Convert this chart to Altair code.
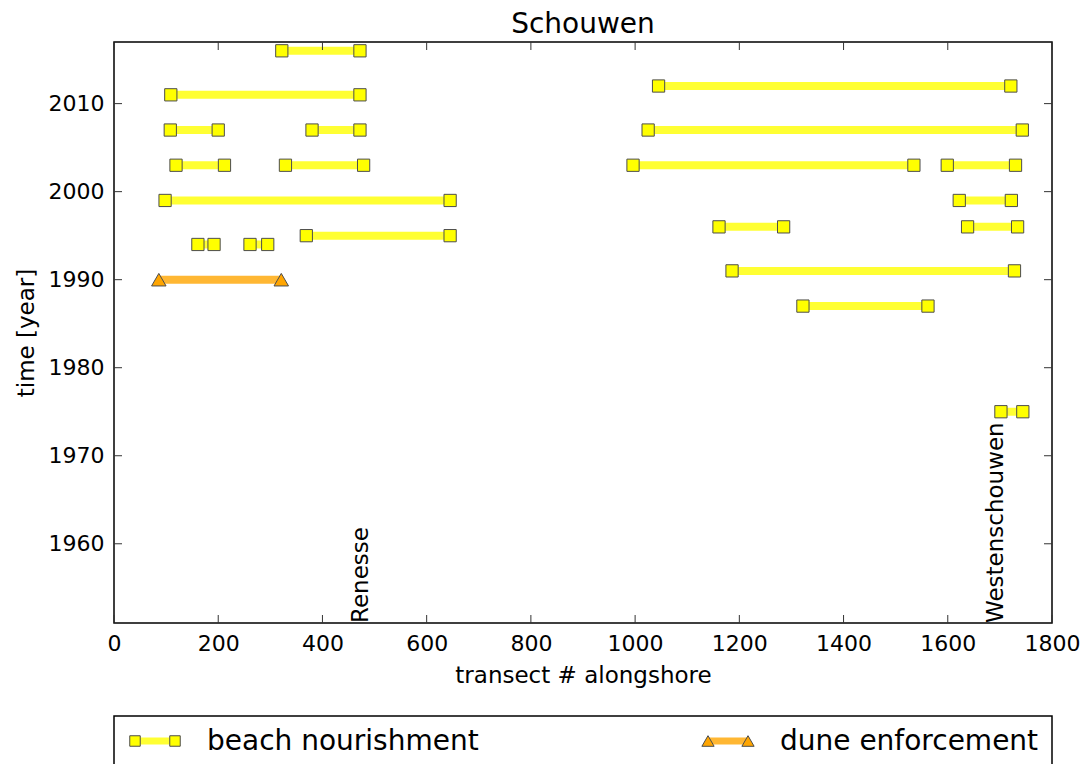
import altair as alt
import pandas as pd

FONT = "DejaVu Sans"

# ---------------- data ----------------
TITLE = "Schouwen"
SERIES = ["beach nourishment", "dune enforcement"]

beach_year = [2016, 2012, 2011, 2007, 2007, 2007, 2003, 2003, 2003, 2003,
              1999, 1999, 1996, 1996, 1995, 1994, 1994, 1991, 1987, 1975]
beach_start = [322, 1045, 109, 108, 380, 1025, 119, 329, 996, 1599,
               98, 1622, 1161, 1638, 369, 161, 261, 1186, 1322, 1702]
beach_end = [472, 1721, 472, 200, 472, 1743, 212, 479, 1535, 1730,
             645, 1722, 1285, 1734, 645, 192, 295, 1728, 1562, 1744]

dune_year = [1990]
dune_start = [86]
dune_end = [321]

place_names = ["Renesse", "Westenschouwen"]
place_transect = [487, 1706]

x_ticks = [0, 200, 400, 600, 800, 1000, 1200, 1400, 1600, 1800]
y_ticks = [1960, 1970, 1980, 1990, 2000, 2010]

# ---------------- tables ----------------
segs = pd.DataFrame({
    "type": [SERIES[0]] * len(beach_year) + [SERIES[1]] * len(dune_year),
    "year": beach_year + dune_year,
    "start": beach_start + dune_start,
    "end": beach_end + dune_end,
})
pts = segs.melt(id_vars=["type", "year"], value_vars=["start", "end"],
                var_name="side", value_name="transect")
places = pd.DataFrame({"name": place_names, "transect": place_transect})
xt = pd.DataFrame({"v": x_ticks})
yt = pd.DataFrame({"v": y_ticks})

W, H = 938, 581

LINE_COLORS = ["#ffff33", "#ffb733"]
FILL_COLORS = ["#ffff00", "#ffa500"]
SHAPES = ["square", "triangle-up"]
EDGE = "#4d4d4d"

xscale = alt.Scale(domain=[0, 1800], nice=False, zero=False)
yscale = alt.Scale(domain=[1951, 2017], nice=False, zero=False)

xaxis = alt.Axis(values=x_ticks, format="d", ticks=False, tickSize=0, domain=False, grid=False,
                 labelFlush=False, labelOverlap=False,
                 labelFontSize=22, labelFont=FONT, labelColor="black", labelPadding=10,
                 title="transect # alongshore", titleFontSize=23, titleFont=FONT,
                 titleFontWeight="normal", titleColor="black",
                 titleY=59, titleBaseline="alphabetic")
yaxis = alt.Axis(values=y_ticks, format="d", ticks=False, tickSize=0, domain=False, grid=False,
                 labelFlush=False,
                 labelFontSize=22, labelFont=FONT, labelColor="black", labelPadding=10,
                 title="time [year]", titleFontSize=23, titleFont=FONT,
                 titleFontWeight="normal", titleColor="black",
                 titleX=-81, titleY=H / 2, titleAngle=270, titleAlign="center",
                 titleBaseline="alphabetic")

base = alt.Chart(segs)

lines = base.mark_rule(strokeWidth=8, strokeCap="butt").encode(
    x=alt.X("start:Q", scale=xscale, axis=xaxis),
    x2="end:Q",
    y=alt.Y("year:Q", scale=yscale, axis=yaxis),
    color=alt.Color("type:N", scale=alt.Scale(domain=SERIES, range=LINE_COLORS), legend=None),
)

points = alt.Chart(pts).mark_point(filled=True, stroke=EDGE, strokeWidth=1,
                                   opacity=1).encode(
    x=alt.X("transect:Q", scale=xscale),
    y=alt.Y("year:Q", scale=yscale),
    fill=alt.Fill("type:N", scale=alt.Scale(domain=SERIES, range=FILL_COLORS), legend=None),
    shape=alt.Shape("type:N", scale=alt.Scale(domain=SERIES, range=SHAPES), legend=None),
    size=alt.Size("type:N", scale=alt.Scale(domain=SERIES, range=[150, 210]), legend=None),
)

labels = alt.Chart(places).mark_text(angle=270, align="left", baseline="alphabetic",
                                     fontSize=23, font=FONT, color="black").encode(
    x=alt.X("transect:Q", scale=xscale),
    y=alt.value(H),
    text="name:N",
)

title = alt.Chart(alt.Data(values=[{"t": TITLE}])).mark_text(
    align="center", baseline="alphabetic", fontSize=28, font=FONT, color="black").encode(
    x=alt.value(W / 2), y=alt.value(-9), text="t:N")

TICK = 8
tick_color = "#333333"
xt_bottom = alt.Chart(xt).mark_rule(color=tick_color, strokeWidth=1).encode(
    x=alt.X("v:Q", scale=xscale), y=alt.value(H), y2=alt.value(H - TICK))
xt_top = alt.Chart(xt).mark_rule(color=tick_color, strokeWidth=1).encode(
    x=alt.X("v:Q", scale=xscale), y=alt.value(0), y2=alt.value(TICK))
yt_left = alt.Chart(yt).mark_rule(color=tick_color, strokeWidth=1).encode(
    y=alt.Y("v:Q", scale=yscale), x=alt.value(0), x2=alt.value(TICK))
yt_right = alt.Chart(yt).mark_rule(color=tick_color, strokeWidth=1).encode(
    y=alt.Y("v:Q", scale=yscale), x=alt.value(W - TICK), x2=alt.value(W))

# ---------------- legend (below the plot) ----------------
LEG_TOP = 674
LEG_Y = 699
LEG_TEXT_Y = 708
LEG_X0 = [21, 594]
LEG_LEN = 40
LEG_TEXT_DX = 72

legend_layers = [
    alt.Chart(alt.Data(values=[{"k": 1}])).mark_rect(
        fill="white", fillOpacity=0, stroke="black", strokeWidth=1.5).encode(
        x=alt.value(0), x2=alt.value(W), y=alt.value(LEG_TOP), y2=alt.value(LEG_TOP + 70))
]
for i, name in enumerate(SERIES):
    d = alt.Data(values=[{"name": name}])
    x0 = LEG_X0[i]
    legend_layers.append(
        alt.Chart(d).mark_rule(strokeWidth=7, strokeCap="butt", color=LINE_COLORS[i]).encode(
            x=alt.value(x0), x2=alt.value(x0 + LEG_LEN), y=alt.value(LEG_Y)))
    for xx in (x0, x0 + LEG_LEN):
        legend_layers.append(
            alt.Chart(d).mark_point(filled=True, shape=SHAPES[i], size=[110, 150][i],
                                    fill=FILL_COLORS[i], stroke=EDGE, strokeWidth=1,
                                    opacity=1).encode(
                x=alt.value(xx), y=alt.value(LEG_Y)))
    legend_layers.append(
        alt.Chart(d).mark_text(align="left", baseline="alphabetic", fontSize=28,
                               font=FONT, color="black").encode(
            x=alt.value(x0 + LEG_TEXT_DX), y=alt.value(LEG_TEXT_Y), text="name:N"))

chart = alt.layer(
    lines, points, labels, title, xt_bottom, xt_top, yt_left, yt_right, *legend_layers
).properties(
    width=W, height=H,
    autosize=alt.AutoSizeParams(type="none"),
    padding={"left": 114, "top": 42, "right": 36, "bottom": 141},
    background="white",
).configure_view(
    stroke="black", strokeWidth=1.5
)

chart.save("out.html", embed_options={"renderer": "svg", "actions": False})
